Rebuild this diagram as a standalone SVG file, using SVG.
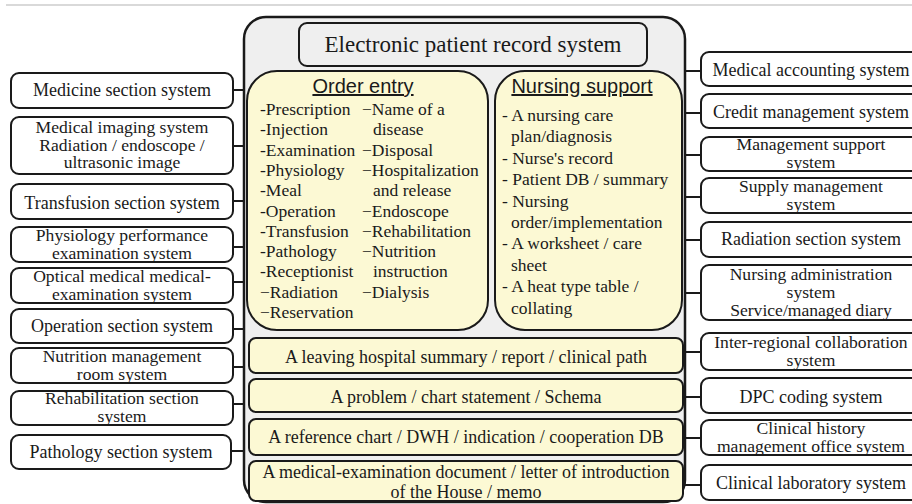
<svg xmlns="http://www.w3.org/2000/svg" width="912" height="504" viewBox="0 0 912 504">
<style>
.bg{fill:#ffffff}
.side{fill:#ffffff;stroke:#1a1a1a;stroke-width:2}
.outer{fill:#efefef;stroke:#1a1a1a;stroke-width:2.5}
.title{fill:#efefef;stroke:#1a1a1a;stroke-width:2}
.yel{fill:#fcf9d4;stroke:#1a1a1a;stroke-width:2}
.conn line{stroke:#1a1a1a;stroke-width:2}
text{font-family:"Liberation Serif","Times New Roman",serif;fill:#1a1a1a}
.t18{font-size:18px;text-anchor:middle}
.ml{font-size:16px;text-anchor:middle;transform-box:fill-box;transform-origin:center;transform:scaleX(1.1)}
.t23{font-size:23px;text-anchor:middle}
.hd{font-family:"Liberation Sans",Arial,sans-serif;font-size:20px;text-anchor:middle;text-decoration:underline}
.it{font-size:17.5px}
</style>
<rect class="bg" x="0" y="0" width="912" height="504"/>
<line x1="6" y1="5" x2="912" y2="5" stroke="#cccccc" stroke-width="1.5"/>

<g id="connectors" class="conn">
<line x1="233" y1="90" x2="244" y2="90"/>
<line x1="233" y1="146" x2="244" y2="146"/>
<line x1="233" y1="201" x2="244" y2="201"/>
<line x1="233" y1="247" x2="244" y2="247"/>
<line x1="233" y1="282" x2="244" y2="282"/>
<line x1="233" y1="329" x2="244" y2="329"/>
<line x1="233" y1="367" x2="244" y2="367"/>
<line x1="233" y1="404" x2="244" y2="404"/>
<line x1="231" y1="451" x2="244" y2="451"/>
<line x1="685" y1="71" x2="701" y2="71"/>
<line x1="685" y1="113" x2="701" y2="113"/>
<line x1="685" y1="155" x2="701" y2="155"/>
<line x1="685" y1="197" x2="701" y2="197"/>
<line x1="685" y1="240" x2="701" y2="240"/>
<line x1="685" y1="293" x2="701" y2="293"/>
<line x1="685" y1="352" x2="701" y2="352"/>
<line x1="685" y1="397" x2="701" y2="397"/>
<line x1="685" y1="438" x2="701" y2="438"/>
<line x1="685" y1="485" x2="701" y2="485"/>
</g>

<g id="epr-system">
<rect class="outer" x="244" y="17" width="441" height="485" rx="22"/>
</g>
<g id="epr-title">
<rect class="title" x="299" y="23" width="348" height="43" rx="8"/>
<text class="t23" x="473" y="52">Electronic patient record system</text>
</g>

<g id="order-entry">
<rect class="yel" x="247" y="71" width="241" height="259" rx="30"/>
<text class="hd" x="363" y="93">Order entry</text>
<text class="it">
<tspan x="260" y="115">-Prescription</tspan>
<tspan x="260" y="135.3">-Injection</tspan>
<tspan x="260" y="155.6">-Examination</tspan>
<tspan x="260" y="175.9">-Physiology</tspan>
<tspan x="260" y="196.2">-Meal</tspan>
<tspan x="260" y="216.5">-Operation</tspan>
<tspan x="260" y="236.8">-Transfusion</tspan>
<tspan x="260" y="257.1">-Pathology</tspan>
<tspan x="260" y="277.4">-Receptionist</tspan>
<tspan x="260" y="297.7">−Radiation</tspan>
<tspan x="260" y="318">−Reservation</tspan>
</text>
<text class="it">
<tspan x="362" y="115">−Name of a</tspan>
<tspan x="373" y="135.3">disease</tspan>
<tspan x="362" y="155.6">−Disposal</tspan>
<tspan x="362" y="175.9">−Hospitalization</tspan>
<tspan x="373" y="196.2">and release</tspan>
<tspan x="362" y="216.5">−Endoscope</tspan>
<tspan x="362" y="236.8">−Rehabilitation</tspan>
<tspan x="362" y="257.1">−Nutrition</tspan>
<tspan x="373" y="277.4">instruction</tspan>
<tspan x="362" y="297.7">−Dialysis</tspan>
</text>
</g>

<g id="nursing-support">
<rect class="yel" x="495" y="71" width="187" height="259" rx="30"/>
<text class="hd" x="582" y="93">Nursing support</text>
<text class="it">
<tspan x="502" y="121">- A nursing care</tspan>
<tspan x="511" y="142.4">plan/diagnosis</tspan>
<tspan x="502" y="163.8">- Nurse's record</tspan>
<tspan x="502" y="185.2">- Patient DB / summary</tspan>
<tspan x="502" y="206.6">- Nursing</tspan>
<tspan x="511" y="228">order/implementation</tspan>
<tspan x="502" y="249.4">- A worksheet / care</tspan>
<tspan x="511" y="270.8">sheet</tspan>
<tspan x="502" y="292.2">- A heat type table /</tspan>
<tspan x="511" y="313.6">collating</tspan>
</text>
</g>

<g id="bar-summary">
<rect class="yel" x="249" y="338" width="434" height="35" rx="7"/>
<text class="t18" x="466" y="363">A leaving hospital summary / report / clinical path</text>
</g>
<g id="bar-problem">
<rect class="yel" x="249" y="379" width="434" height="33" rx="7"/>
<text class="t18" x="466" y="403">A problem / chart statement / Schema</text>
</g>
<g id="bar-reference">
<rect class="yel" x="249" y="419" width="434" height="36" rx="7"/>
<text class="t18" x="466" y="443">A reference chart / DWH / indication / cooperation DB</text>
</g>
<g id="bar-document">
<rect class="yel" x="249" y="461" width="434" height="40" rx="7"/>
<text class="t18" x="466" y="477.5">A medical-examination document / letter of introduction</text>
<text class="t18" x="466" y="497.5">of the House / memo</text>
</g>

<g id="left-medicine">
<rect class="side" x="11" y="73" width="222" height="35" rx="8"/>
<text class="t18" x="122" y="96">Medicine section system</text>
</g>
<g id="left-imaging">
<rect class="side" x="11" y="117" width="222" height="57" rx="8"/>
<text class="ml" x="122" y="133">Medical imaging system</text>
<text class="ml" x="122" y="150.8">Radiation / endoscope /</text>
<text class="ml" x="122" y="168.5">ultrasonic image</text>
</g>
<g id="left-transfusion">
<rect class="side" x="11" y="184" width="222" height="35" rx="8"/>
<text class="t18" x="122" y="209">Transfusion section system</text>
</g>
<g id="left-physiology">
<rect class="side" x="11" y="227" width="222" height="35" rx="8"/>
<text class="ml" x="122" y="241">Physiology performance</text>
<text class="ml" x="122" y="258.7">examination system</text>
</g>
<g id="left-optical">
<rect class="side" x="11" y="268" width="222" height="35" rx="8"/>
<text class="ml" x="122" y="282">Optical medical medical-</text>
<text class="ml" x="122" y="299.7">examination system</text>
</g>
<g id="left-operation">
<rect class="side" x="11" y="309" width="222" height="34" rx="8"/>
<text class="t18" x="122" y="332">Operation section system</text>
</g>
<g id="left-nutrition">
<rect class="side" x="11" y="348" width="222" height="35" rx="8"/>
<text class="ml" x="122" y="362">Nutrition management</text>
<text class="ml" x="122" y="379.7">room system</text>
</g>
<g id="left-rehab">
<rect class="side" x="11" y="391" width="222" height="34" rx="8"/>
<text class="ml" x="122" y="404.5">Rehabilitation section</text>
<text class="ml" x="122" y="422.2">system</text>
</g>
<g id="left-pathology">
<rect class="side" x="11" y="435" width="220" height="34" rx="8"/>
<text class="t18" x="121" y="458">Pathology section system</text>
</g>

<g id="right-accounting">
<rect class="side" x="701" y="52" width="220" height="34" rx="8"/>
<text class="t18" x="811" y="76">Medical accounting system</text>
</g>
<g id="right-credit">
<rect class="side" x="701" y="94" width="220" height="34" rx="8"/>
<text class="t18" x="811" y="118">Credit management system</text>
</g>
<g id="right-mgmt-support">
<rect class="side" x="701" y="137" width="220" height="34" rx="8"/>
<text class="ml" x="811" y="150.5">Management support</text>
<text class="ml" x="811" y="168.2">system</text>
</g>
<g id="right-supply">
<rect class="side" x="701" y="178" width="220" height="35" rx="8"/>
<text class="ml" x="811" y="192">Supply management</text>
<text class="ml" x="811" y="209.7">system</text>
</g>
<g id="right-radiation">
<rect class="side" x="701" y="222" width="220" height="35" rx="8"/>
<text class="t18" x="811" y="245">Radiation section system</text>
</g>
<g id="right-nursing-admin">
<rect class="side" x="701" y="265" width="220" height="55" rx="8"/>
<text class="ml" x="811" y="280.2">Nursing administration</text>
<text class="ml" x="811" y="297.9">system</text>
<text class="ml" x="811" y="315.6">Service/managed diary</text>
</g>
<g id="right-interregional">
<rect class="side" x="701" y="333" width="220" height="37" rx="8"/>
<text class="ml" x="811" y="348">Inter-regional collaboration</text>
<text class="ml" x="811" y="365.7">system</text>
</g>
<g id="right-dpc">
<rect class="side" x="701" y="378" width="220" height="35" rx="8"/>
<text class="t18" x="811" y="403">DPC coding system</text>
</g>
<g id="right-clinical-history">
<rect class="side" x="701" y="420" width="220" height="35" rx="8"/>
<text class="ml" x="811" y="434">Clinical history</text>
<text class="ml" x="811" y="451.7">management office system</text>
</g>
<g id="right-lab">
<rect class="side" x="701" y="465" width="220" height="35" rx="8"/>
<text class="t18" x="811" y="489">Clinical laboratory system</text>
</g>
</svg>
